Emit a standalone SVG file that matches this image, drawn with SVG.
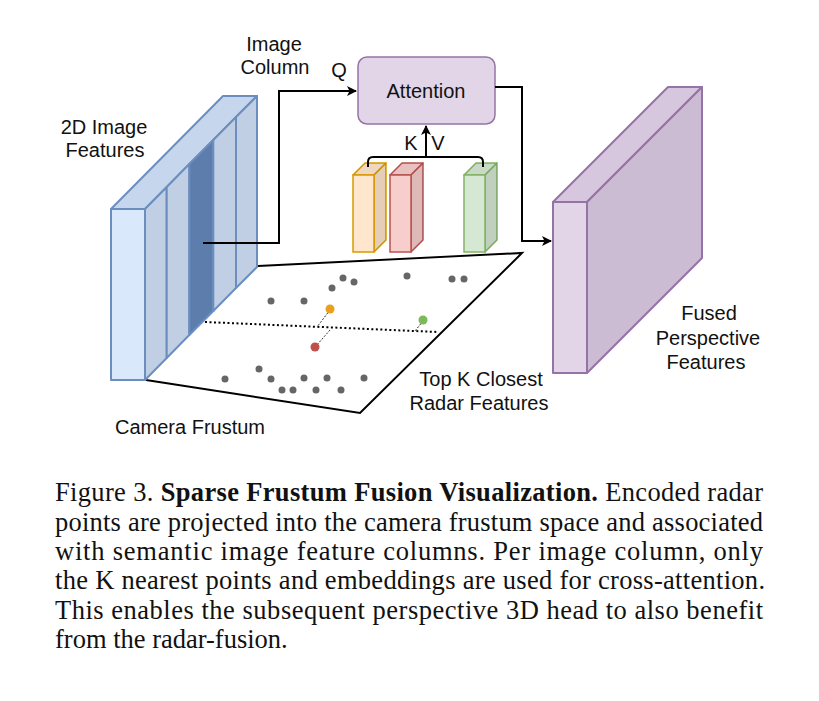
<svg xmlns="http://www.w3.org/2000/svg" width="819" height="701" viewBox="0 0 819 701">
<defs>
<marker id="arr" viewBox="0 0 10 10" refX="9" refY="5" markerWidth="5" markerHeight="5" markerUnits="strokeWidth" orient="auto">
<path d="M0,0 L10,5 L0,10 L2.5,5 Z" fill="#000"/>
</marker>
<style>
.lbl{font-family:"Liberation Sans",Arial,sans-serif;font-size:20px;fill:#111;text-anchor:middle}
.cap{font-family:"Liberation Serif","Times New Roman",serif;font-size:26.5px;fill:#111}
.b{font-weight:bold}
.con{fill:none;stroke:#000;stroke-width:2}
.dot{fill:#666}
.blue{stroke:#6c8ebf;stroke-width:2;stroke-linejoin:round}
.purp{stroke:#9673a6;stroke-width:2;stroke-linejoin:round}
.shade{fill:#000;fill-opacity:0.1;stroke:none}
</style>
</defs>
<rect width="819" height="701" fill="#fff"/>

<g id="frustum">
<path d="M258,266 L522,253 L360,413 L146,380 Z" fill="#fff" stroke="none"/>
<path d="M258,266 L522,253 L360,413 L146,380" fill="none" stroke="#000" stroke-width="2"/>
<line x1="205" y1="322" x2="438" y2="332" stroke="#000" stroke-width="2" stroke-dasharray="2,2.5"/>
<g stroke="#333" stroke-width="1" stroke-dasharray="2,1.5">
<line x1="330" y1="310" x2="317" y2="327"/>
<line x1="330" y1="330" x2="316" y2="346"/>
<line x1="423" y1="321" x2="415" y2="331"/>
</g>
<g class="dot">
<circle cx="343" cy="278" r="3.5"/><circle cx="354" cy="282" r="3.5"/><circle cx="332" cy="288" r="3.5"/>
<circle cx="407" cy="276" r="3.5"/><circle cx="452" cy="279" r="3.5"/><circle cx="464" cy="279" r="3.5"/>
<circle cx="271" cy="301" r="3.5"/><circle cx="304" cy="301" r="3.5"/>
<circle cx="259" cy="369" r="3.5"/><circle cx="225" cy="379" r="3.5"/><circle cx="271" cy="379" r="3.5"/>
<circle cx="282" cy="390" r="3.5"/><circle cx="293" cy="390" r="3.5"/><circle cx="304" cy="378" r="3.5"/>
<circle cx="316" cy="390" r="3.5"/><circle cx="327" cy="378" r="3.5"/><circle cx="341" cy="390" r="3.5"/>
<circle cx="364" cy="378" r="3.5"/>
</g>
<circle cx="330" cy="309" r="4.5" fill="#e8a01e"/>
<circle cx="315" cy="347" r="4.5" fill="#c0504d"/>
<circle cx="423" cy="320" r="4.5" fill="#7cb95a"/>
</g>

<g id="image-features">
<polygon points="111,209 145,209 257,96 223,96" fill="#c6d6ec" class="blue"/>
<polygon points="145,209 166.7,187 166.7,358 145,380" fill="#c0cfe3" class="blue"/>
<polygon points="166.7,187 189.3,164 189.3,335 166.7,358" fill="#c0cfe3" class="blue"/>
<polygon points="189.3,164 213.3,140 213.3,311 189.3,335" fill="#5d7eac" class="blue"/>
<polygon points="213.3,140 236,117 236,288 213.3,311" fill="#c0cfe3" class="blue"/>
<polygon points="236,117 257,96 257,267 236,288" fill="#c0cfe3" class="blue"/>
<rect x="111" y="209" width="34" height="171" fill="#dae8fc" class="blue"/>
</g>

<g id="attention">
<rect x="358" y="57" width="137" height="67" rx="9" fill="#e1d5e7" stroke="#9673a6" stroke-width="1.5"/>
<text class="lbl" x="426" y="98">Attention</text>
</g>

<g id="cube-orange">
<polygon points="353,175 374,175 386,163 365,163" fill="#ffe6cc" stroke="#d79b00" stroke-width="1.5" stroke-linejoin="round"/>
<polygon points="353,175 374,175 386,163 365,163" class="shade" style="fill-opacity:0.06"/>
<polygon points="374,175 386,163 386,240 374,252" fill="#ffe6cc" stroke="#d79b00" stroke-width="1.5" stroke-linejoin="round"/>
<polygon points="374,175 386,163 386,240 374,252" class="shade"/>
<rect x="353" y="175" width="21" height="77" fill="#ffe6cc" stroke="#d79b00" stroke-width="1.5"/>
</g>
<g id="cube-red">
<polygon points="390,175 411,175 423,163 402,163" fill="#f8cecc" stroke="#b85450" stroke-width="1.5" stroke-linejoin="round"/>
<polygon points="390,175 411,175 423,163 402,163" class="shade" style="fill-opacity:0.06"/>
<polygon points="411,175 423,163 423,240 411,252" fill="#f8cecc" stroke="#b85450" stroke-width="1.5" stroke-linejoin="round"/>
<polygon points="411,175 423,163 423,240 411,252" class="shade"/>
<rect x="390" y="175" width="21" height="77" fill="#f8cecc" stroke="#b85450" stroke-width="1.5"/>
</g>
<g id="cube-green">
<polygon points="464,175 485,175 497,163 476,163" fill="#d5e8d4" stroke="#82b366" stroke-width="1.5" stroke-linejoin="round"/>
<polygon points="464,175 485,175 497,163 476,163" class="shade" style="fill-opacity:0.06"/>
<polygon points="485,175 497,163 497,240 485,252" fill="#d5e8d4" stroke="#82b366" stroke-width="1.5" stroke-linejoin="round"/>
<polygon points="485,175 497,163 497,240 485,252" class="shade"/>
<rect x="464" y="175" width="21" height="77" fill="#d5e8d4" stroke="#82b366" stroke-width="1.5"/>
</g>

<g id="fused-features">
<polygon points="553,202 587,202 702,87 668,87" fill="#d6c7de" class="purp"/>
<polygon points="587,202 702,87 702,258 587,373" fill="#cbbcd4" class="purp"/>
<rect x="553" y="202" width="34" height="171" fill="#e1d5e7" class="purp"/>
</g>

<g id="connectors">
<path class="con" d="M203,243 H279 V91 H356" marker-end="url(#arr)"/>
<path class="con" d="M368,167 V162 Q368,157 373,157 H478 Q483,157 483,162 V167"/>
<path class="con" d="M426,157 V126" marker-end="url(#arr)"/>
<path class="con" d="M495,87 H522 V241 H551" marker-end="url(#arr)"/>
</g>

<g id="labels">
<text class="lbl" x="274" y="51">Image</text>
<text class="lbl" x="275" y="74">Column</text>
<text class="lbl" x="339" y="77">Q</text>
<text class="lbl" x="104" y="134">2D Image</text>
<text class="lbl" x="105" y="157">Features</text>
<text class="lbl" x="411" y="150">K</text>
<text class="lbl" x="438" y="150">V</text>
<text class="lbl" x="709" y="320">Fused</text>
<text class="lbl" x="708" y="345">Perspective</text>
<text class="lbl" x="706" y="369">Features</text>
<text class="lbl" x="481" y="386">Top K Closest</text>
<text class="lbl" x="479" y="410">Radar Features</text>
<text class="lbl" x="190" y="434">Camera Frustum</text>
</g>

<g id="caption">
<text class="cap" x="55" y="501" textLength="708" lengthAdjust="spacing">Figure 3. <tspan class="b">Sparse Frustum Fusion Visualization.</tspan> Encoded radar</text>
<text class="cap" x="55" y="531" textLength="708" lengthAdjust="spacing">points are projected into the camera frustum space and associated</text>
<text class="cap" x="55" y="560" textLength="708" lengthAdjust="spacing">with semantic image feature columns.  Per image column, only</text>
<text class="cap" x="55" y="589" textLength="710" lengthAdjust="spacing">the K nearest points and embeddings are used for cross-attention.</text>
<text class="cap" x="55" y="619" textLength="708" lengthAdjust="spacing">This enables the subsequent perspective 3D head to also benefit</text>
<text class="cap" x="55" y="648">from the radar-fusion.</text>
</g>
</svg>
